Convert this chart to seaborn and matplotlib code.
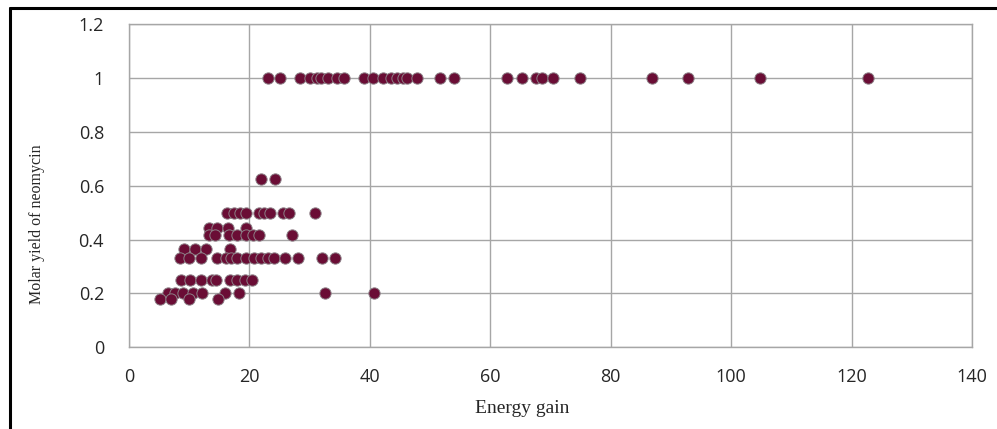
import pandas as pd
import seaborn as sns
import matplotlib.pyplot as plt
from matplotlib.lines import Line2D

# Energy gain values for each molar yield level
x_100 = [23.1, 25.0, 28.4, 30.0, 31.2, 31.8, 33.1, 34.6, 35.7, 39.0, 40.5, 42.2, 43.5,
         44.5, 45.5, 46.1, 47.9, 51.7, 53.9, 62.8, 65.3, 67.6, 68.5, 70.4, 74.9, 86.8,
         92.9, 104.8, 122.8]
x_062 = [21.9, 24.3]
x_050 = [16.3, 17.4, 18.4, 19.5, 21.6, 22.4, 23.4, 25.6, 26.6, 30.9]
x_044 = [13.2, 14.6, 16.5, 19.5]
x_042 = [13.2, 14.3, 16.6, 18.0, 19.5, 20.6, 21.6, 27.0]
x_036 = [9.1, 11.0, 12.8, 16.7]
x_033 = [8.4, 10.0, 11.9, 14.6, 16.1, 17.0, 18.0, 19.5, 20.7, 22.0, 23.0, 24.0, 25.9,
         28.0, 32.0, 34.2]
x_025 = [8.6, 10.1, 11.9, 13.7, 14.5, 16.8, 18.0, 19.3, 20.4]
x_020 = [6.5, 7.6, 9.0, 10.6, 12.2, 15.9, 18.3, 32.6, 40.6]
x_018 = [5.1, 7.0, 10.0, 14.8]

yield_levels = [1.0, 0.625, 0.5, 0.444, 0.417, 0.364, 0.333, 0.25, 0.2, 0.18]
x_groups = [x_100, x_062, x_050, x_044, x_042, x_036, x_033, x_025, x_020, x_018]

x_ticks = [0, 20, 40, 60, 80, 100, 120, 140]
y_ticks = [0, 0.2, 0.4, 0.6, 0.8, 1.0, 1.2]
y_tick_labels = ['0', '0.2', '0.4', '0.6', '0.8', '1', '1.2']

# Build one table from the groups
rows = []
for level, xs in zip(yield_levels, x_groups):
    for xv in xs:
        rows.append({'Energy gain': xv, 'Molar yield': level})
df = pd.DataFrame(rows)

sns.set_style('white')

fig = plt.figure(figsize=(9.97, 4.29), dpi=100)
ax = fig.add_axes([0.1294, 0.1911, 0.8456, 0.7518])

sns.scatterplot(data=df, x='Energy gain', y='Molar yield', ax=ax,
                color='#6a0d35', edgecolor='#8c7f86', linewidth=0.7, s=66, zorder=3)

ax.set_xlim(0, 140)
ax.set_ylim(0, 1.2)
ax.set_xticks(x_ticks)
ax.set_yticks(y_ticks)
ax.set_yticklabels(y_tick_labels)
ax.grid(True, color='#a6a6a6', linewidth=1.0)
ax.set_axisbelow(True)
for sp in ax.spines.values():
    sp.set_color('#a6a6a6')
    sp.set_linewidth(1.0)

ax.tick_params(axis='both', length=0, labelsize=13, colors='#262626')
ax.tick_params(axis='x', pad=15)
ax.tick_params(axis='y', pad=18)
for lab in ax.get_xticklabels() + ax.get_yticklabels():
    lab.set_family('Open Sans')

ax.set_xlabel('Energy gain', family='Liberation Serif', fontsize=14, color='#262626')
ax.set_ylabel('Molar yield of neomycin', family='Liberation Serif', fontsize=11.5,
              color='#262626')
ax.xaxis.set_label_coords(0.466, -0.165)
ax.yaxis.set_label_coords(-0.1, 0.38)

# Frame lines of the original screenshot (left and top)
fig.add_artist(Line2D([10 / 997, 10 / 997], [0, 1 - 8 / 429], color='black', linewidth=2.2))
fig.add_artist(Line2D([10 / 997, 1], [1 - 8 / 429, 1 - 8 / 429], color='black', linewidth=2.2))

fig.savefig('out.png', dpi=100)
